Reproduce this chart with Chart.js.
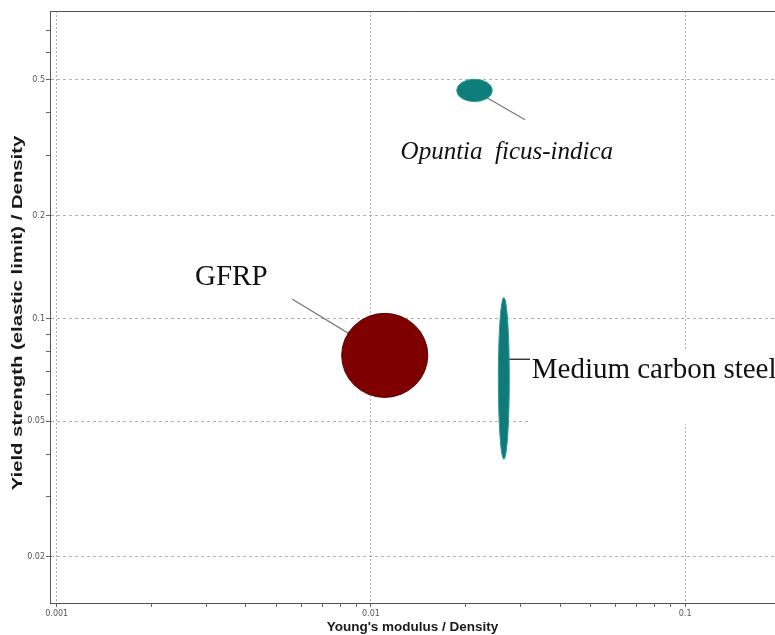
<!DOCTYPE html>
<html>
<head>
<meta charset="utf-8">
<script src="https://cdn.jsdelivr.net/npm/chart.js@4.4.1/dist/chart.umd.min.js"></script>
<style>
  html, body { margin: 0; padding: 0; background: #ffffff; overflow: hidden; }
  canvas { display: block; }
</style>
</head>
<body>
<canvas id="chart" width="775" height="635"></canvas>
<script>
// Property ranges of each material (log–log chart: specific yield strength vs specific modulus)
const materials    = ['Opuntia ficus-indica', 'GFRP', 'Medium carbon steel'];
const modulusLow   = [0.01875, 0.00807, 0.02544];
const modulusHigh  = [0.02434, 0.01517, 0.02757];
const strengthLow  = [0.4318, 0.0587, 0.0387];
const strengthHigh = [0.5024, 0.1035, 0.1151];

// Labelled axis ticks
const xMajorTicks = [0.001, 0.01, 0.1];
const yMajorTicks = [0.02, 0.05, 0.1, 0.2, 0.5];

// Axis ranges
const xRange = [0.000952, 0.1932];
const yRange = [0.01466, 0.796];

// Bubble appearance
const fillColors   = ['#0f7e7b', '#7e0000', '#0f7a77'];
const strokeColors = ['#2a9a97', '#5c0000', '#2a9a97'];

// Callout text, anchor of the text baseline and end of the leader line (data coordinates)
const callouts = [
  { text: 'Opuntia  ficus-indica', font: 'italic 25px "Liberation Serif"', at: [0.01243, 0.2935], leader: [0.03094, 0.3819], leaderColor: '#777777', level: false, box: false },
  { text: 'GFRP', font: '29px "Liberation Serif"', at: [0.002755, 0.1254], leader: [0.005609, 0.1141], leaderColor: '#777777', level: false, box: false },
  { text: 'Medium carbon steel', font: '29px "Liberation Serif"', at: [0.03249, 0.06679], leader: [0.03209, 0.07594], leaderColor: '#111111', level: true, box: true }
];

// Ticks 1..9 within every decade of the range
function decadeTicks(range) {
  const out = [];
  const lo = Math.floor(Math.log10(range[0]));
  const hi = Math.ceil(Math.log10(range[1]));
  for (let e = lo; e <= hi; e++) {
    for (let m = 1; m <= 9; m++) {
      const v = +(m * Math.pow(10, e)).toPrecision(6);
      if (v >= range[0] && v <= range[1]) out.push(v);
    }
  }
  return out;
}
function isMajor(v, majors) {
  return majors.some(m => Math.abs(m - v) / m < 1e-6);
}

const datasets = materials.map((name, i) => ({
  label: name,
  data: [{ x: Math.sqrt(modulusLow[i] * modulusHigh[i]), y: Math.sqrt(strengthLow[i] * strengthHigh[i]) }],
  pointRadius: 0,
  backgroundColor: fillColors[i]
}));

// Draws each material as an ellipse spanning its ranges, plus callouts
const bubblePlugin = {
  id: 'materialBubbles',
  afterDatasetsDraw(chart) {
    const { ctx, chartArea, scales: { x, y } } = chart;
    ctx.save();

    // white text boxes
    callouts.forEach(c => {
      if (!c.box) return;
      const px = x.getPixelForValue(c.at[0]);
      const py = y.getPixelForValue(c.at[1]);
      ctx.fillStyle = '#ffffff';
      ctx.fillRect(px - 2, py - 28, 400, 74);
    });

    // leader lines, from inside the bubble out to the callout
    materials.forEach((name, i) => {
      const c = callouts[i];
      const cx = (x.getPixelForValue(modulusLow[i]) + x.getPixelForValue(modulusHigh[i])) / 2;
      const cy = (y.getPixelForValue(strengthLow[i]) + y.getPixelForValue(strengthHigh[i])) / 2;
      const ex = x.getPixelForValue(c.leader[0]);
      const ey = y.getPixelForValue(c.leader[1]);
      ctx.beginPath();
      ctx.strokeStyle = c.leaderColor;
      ctx.lineWidth = 1.2;
      ctx.moveTo(cx, c.level ? ey : cy);
      ctx.lineTo(ex, ey);
      ctx.stroke();
    });

    // bubbles
    ctx.beginPath();
    ctx.rect(chartArea.left, chartArea.top, chartArea.right - chartArea.left, chartArea.bottom - chartArea.top);
    ctx.clip();
    materials.forEach((name, i) => {
      const x0 = x.getPixelForValue(modulusLow[i]);
      const x1 = x.getPixelForValue(modulusHigh[i]);
      const y0 = y.getPixelForValue(strengthHigh[i]);
      const y1 = y.getPixelForValue(strengthLow[i]);
      ctx.beginPath();
      ctx.ellipse((x0 + x1) / 2, (y0 + y1) / 2, (x1 - x0) / 2, (y1 - y0) / 2, 0, 0, Math.PI * 2);
      ctx.fillStyle = fillColors[i];
      ctx.fill();
      ctx.lineWidth = 1;
      ctx.strokeStyle = strokeColors[i];
      ctx.stroke();
    });
    ctx.restore();

    // callout text
    ctx.save();
    callouts.forEach(c => {
      ctx.font = c.font;
      ctx.fillStyle = '#111111';
      ctx.textAlign = 'left';
      ctx.textBaseline = 'alphabetic';
      ctx.fillText(c.text, x.getPixelForValue(c.at[0]), y.getPixelForValue(c.at[1]));
    });
    ctx.restore();
  }
};

// Top frame line and the vertical axis title
const framePlugin = {
  id: 'frame',
  afterDraw(chart) {
    const { ctx, chartArea } = chart;
    ctx.save();
    ctx.strokeStyle = '#555555';
    ctx.lineWidth = 1;
    ctx.beginPath();
    ctx.moveTo(chartArea.left, Math.round(chartArea.top) + 0.5);
    ctx.lineTo(chartArea.right, Math.round(chartArea.top) + 0.5);
    ctx.stroke();
    ctx.restore();

    ctx.save();
    ctx.translate(18, (chartArea.top + chartArea.bottom) / 2 + 6);
    ctx.rotate(-Math.PI / 2);
    ctx.scale(1.45, 1);
    ctx.font = 'bold 14px "Liberation Sans"';
    ctx.fillStyle = '#1a1a1a';
    ctx.textAlign = 'center';
    ctx.textBaseline = 'middle';
    ctx.fillText('Yield strength (elastic limit) / Density', 0, 0);
    ctx.restore();
  }
};

function logAxis(range, majors, extra) {
  return Object.assign({
    type: 'logarithmic',
    min: range[0],
    max: range[1],
    afterBuildTicks(scale) {
      scale.ticks = decadeTicks(range).map(v => ({ value: v, major: isMajor(v, majors) }));
    },
    grid: {
      color: ctx => (ctx.tick && isMajor(ctx.tick.value, majors) ? '#b0b0b0' : 'rgba(0,0,0,0)'),
      tickColor: '#666666',
      tickLength: 4,
      lineWidth: 1
    }
  }, extra);
}

new Chart(document.getElementById('chart'), {
  type: 'scatter',
  data: { datasets },
  options: {
    responsive: false,
    animation: false,
    events: [],
    layout: { padding: { top: 11, right: 0, left: 0, bottom: 0 } },
    plugins: { legend: { display: false }, tooltip: { enabled: false } },
    scales: {
      x: logAxis(xRange, xMajorTicks, {
        position: 'bottom',
        border: { color: '#555555', width: 1, dash: [2, 2] },
        ticks: {
          autoSkip: false, maxRotation: 0, minRotation: 0, padding: 2,
          color: '#555555', font: { family: 'DejaVu Sans', size: 8 },
          callback: v => (isMajor(v, xMajorTicks) ? String(v) : '')
        },
        title: {
          display: true,
          text: "Young's modulus / Density",
          color: '#1a1a1a',
          font: { family: 'Liberation Sans', size: 13.5, weight: 'bold' },
          padding: { top: 0, bottom: 0 }
        },
        afterFit(scale) { scale.height = 32; }
      }),
      y: logAxis(yRange, yMajorTicks, {
        position: 'left',
        border: { color: '#555555', width: 1, dash: [3, 3] },
        ticks: {
          autoSkip: false, maxRotation: 0, minRotation: 0, padding: 1,
          color: '#555555', font: { family: 'DejaVu Sans', size: 8 },
          callback: v => (isMajor(v, yMajorTicks) ? String(v) : '')
        },
        afterFit(scale) { scale.width = 50; }
      })
    }
  },
  plugins: [bubblePlugin, framePlugin]
});
</script>
</body>
</html>
